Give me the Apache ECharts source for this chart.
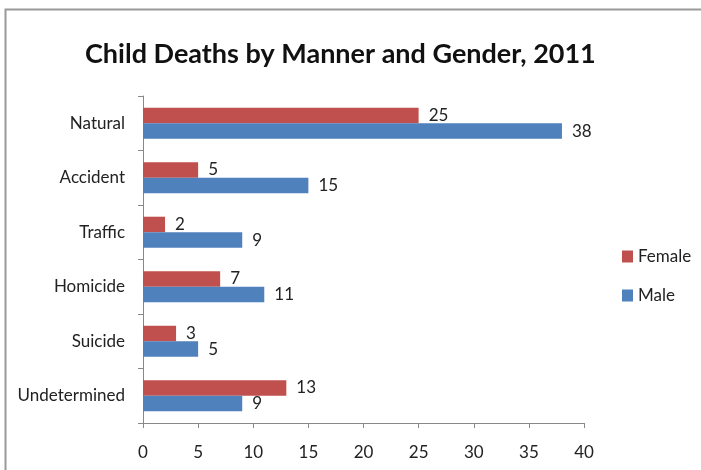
<!DOCTYPE html>
<html><head><meta charset="utf-8">
<script src="https://cdn.jsdelivr.net/npm/echarts@6/dist/echarts.min.js"></script>
<style>html,body{margin:0;padding:0;background:#fff}#c{width:701px;height:470px}</style>
</head><body><div id="c"></div>
<script>
const categories = ['Natural','Accident','Traffic','Homicide','Suicide','Undetermined'];
const female = [25,5,2,7,3,13];
const male = [38,15,9,11,5,9];
const xTicks = {min:0, max:40, interval:5};
const F = 'Lato';
const chart = echarts.init(document.getElementById('c'));
chart.setOption({
  animation:false,
  textStyle:{fontFamily:F},
  graphic:[{type:'rect',shape:{x:5.5,y:9.5,width:800,height:800},style:{fill:'none',stroke:'#999',lineWidth:2},silent:true}],
  title:{text:'Child Deaths by Manner and Gender, 2011',left:80,top:36,textStyle:{fontFamily:F,fontWeight:'bold',fontSize:27,color:'#111'}},
  legend:{orient:'vertical',left:617,top:243,itemWidth:11,itemHeight:12,itemGap:22,icon:'rect',textStyle:{fontSize:17,color:'#222',fontFamily:F},data:['Female','Male']},
  grid:{left:143,top:96,width:441,height:327,containLabel:false},
  xAxis:{type:'value',min:xTicks.min,max:xTicks.max,interval:xTicks.interval,splitLine:{show:false},
    axisLine:{show:true,lineStyle:{color:'#888'}},axisTick:{show:true,length:5,lineStyle:{color:'#888'}},
    axisLabel:{fontSize:17,color:'#222',margin:21,fontFamily:F}},
  yAxis:{type:'category',data:categories,inverse:true,
    axisLine:{show:true,lineStyle:{color:'#888'}},axisTick:{show:true,length:5,lineStyle:{color:'#888'}},
    axisLabel:{fontSize:17,color:'#222',margin:18,fontFamily:F}},
  series:[
    {name:'Female',type:'bar',data:female,barGap:'0%',barCategoryGap:'43%',itemStyle:{color:'#C0504D'},
     label:{show:true,position:'right',distance:10,fontSize:17,color:'#222',fontFamily:F}},
    {name:'Male',type:'bar',data:male,barGap:'0%',barCategoryGap:'43%',itemStyle:{color:'#4F81BD'},
     label:{show:true,position:'right',distance:10,fontSize:17,color:'#222',fontFamily:F}}
  ]
});
</script></body></html>
